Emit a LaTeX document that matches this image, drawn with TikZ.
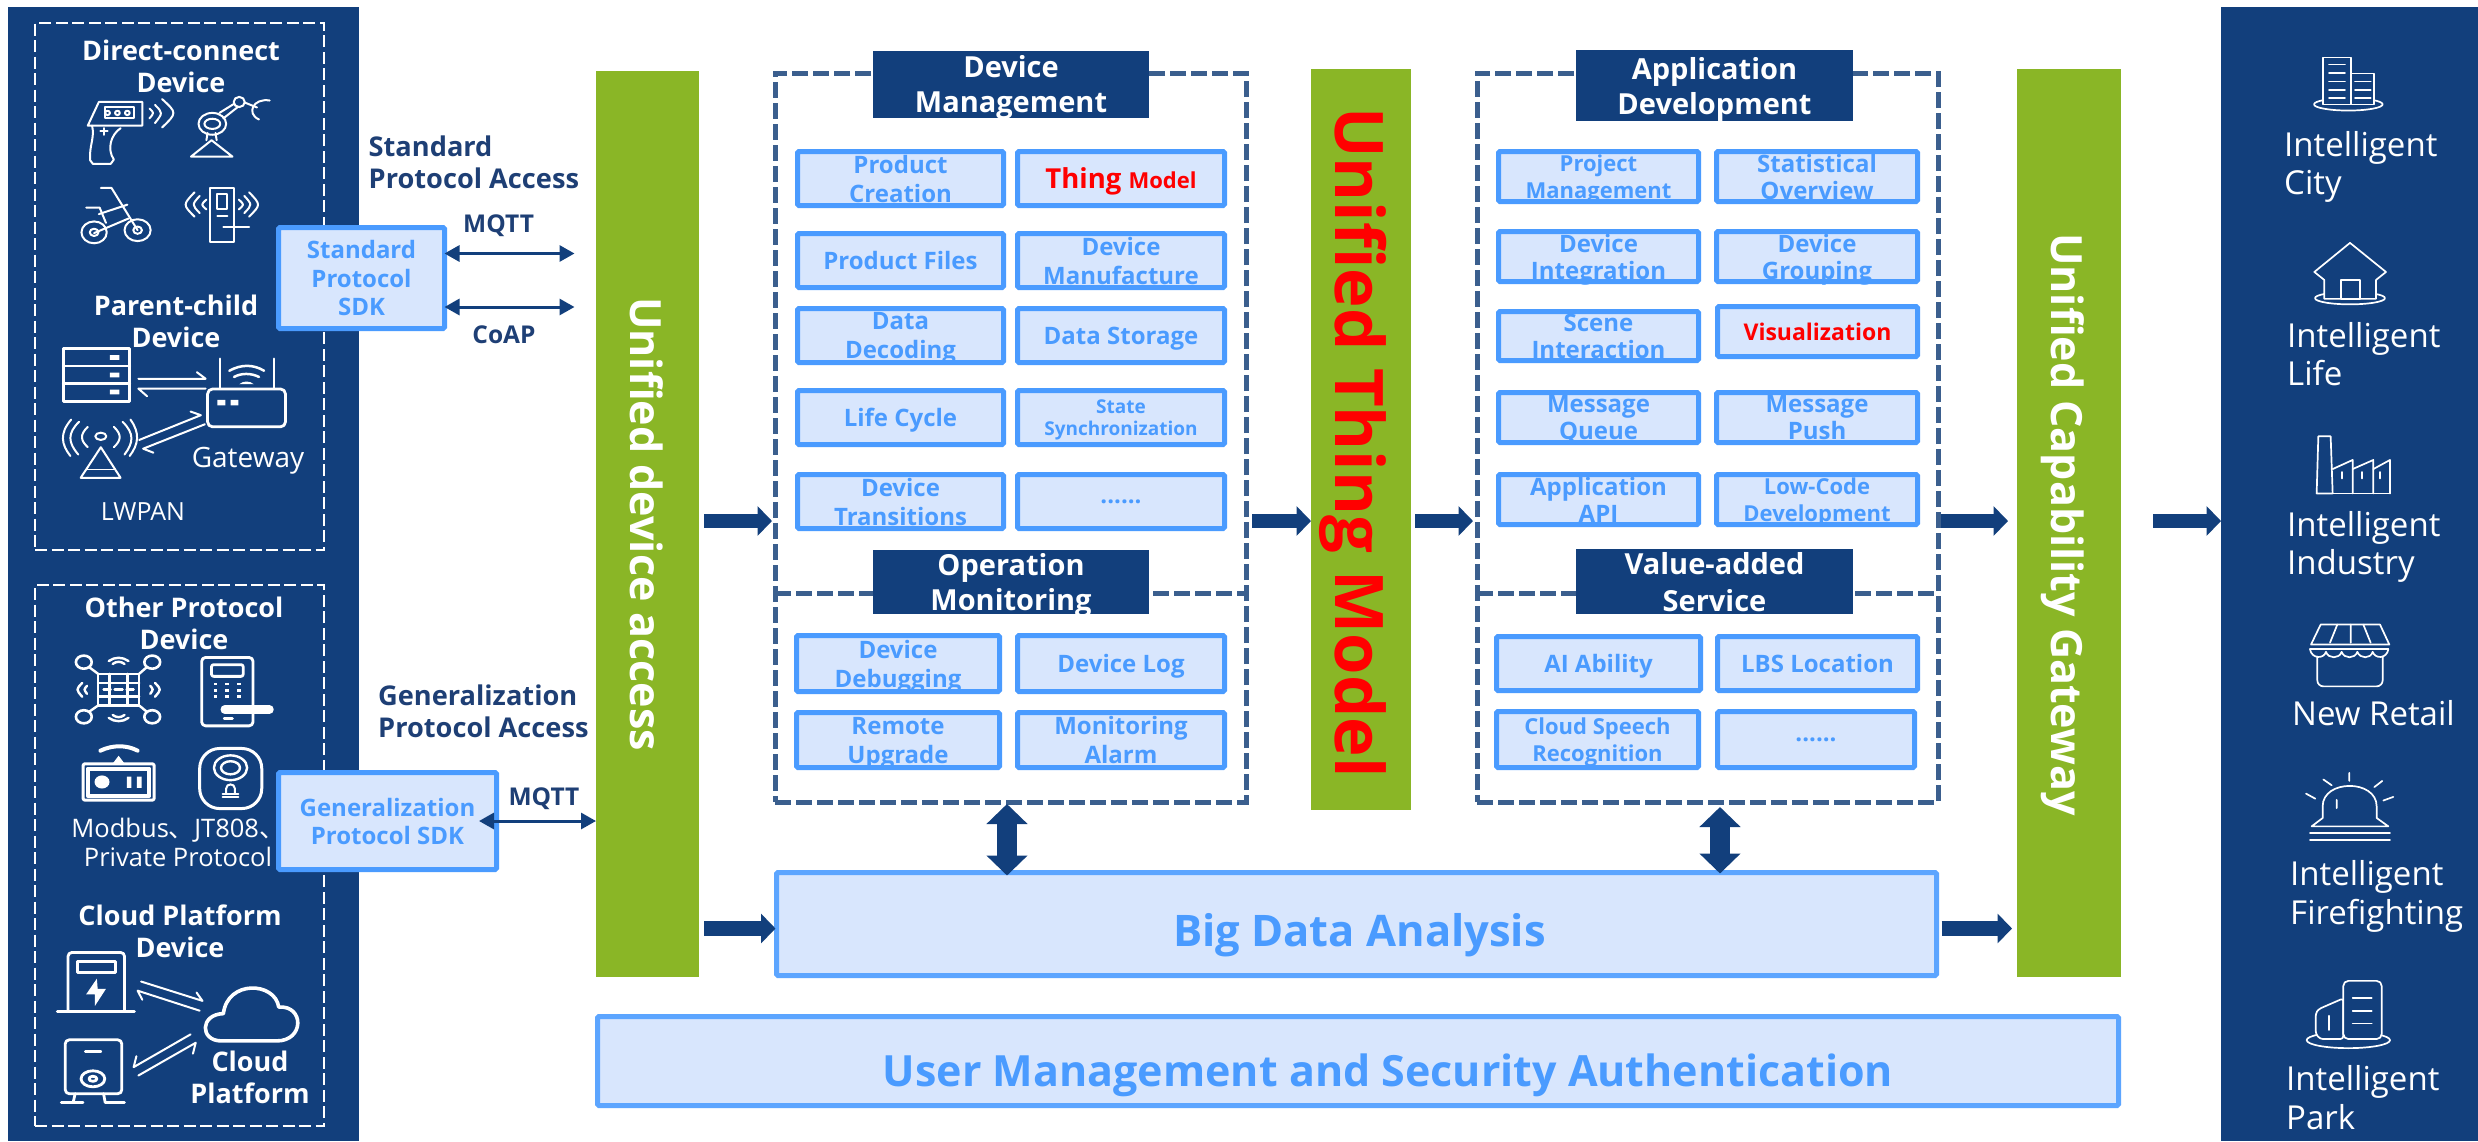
\documentclass[tikz,border=0pt]{standalone}
\usepackage{fontspec}
\setmainfont{Open Sans}
\newfontfamily\cjk{Noto Sans CJK SC}
\usetikzlibrary{arrows.meta}
\definecolor{navy}{RGB}{18,63,124}
\definecolor{lbltxt}{RGB}{30,63,117}
\definecolor{leaf}{RGB}{138,182,38}
\definecolor{bl}{RGB}{74,155,255}
\definecolor{bf}{RGB}{216,230,253}
\definecolor{dsh}{RGB}{59,95,142}
\definecolor{redt}{RGB}{255,0,0}
\newcommand{\fs}[2]{\fontsize{#1}{#2}\selectfont}
\newcommand{\cbox}[7][]{%
  \pgfmathsetmacro\mycx{(#3+#5)/2}\pgfmathsetmacro\mycy{(#4+#6)/2}%
  \pgfmathsetmacro\myw{#5-#3-5}\pgfmathsetmacro\myh{#6-#4-5}%
  \node[cell,minimum width=\myw pt,minimum height=\myh pt,#1] (#2) at (\mycx,\mycy) {#7};}
\newcommand{\hdr}[7][]{%
  \pgfmathsetmacro\mycx{(#3+#5)/2}\pgfmathsetmacro\mycy{(#4+#6)/2}%
  \pgfmathsetmacro\myw{#5-#3}\pgfmathsetmacro\myh{#6-#4}%
  \node[header,minimum width=\myw pt,minimum height=\myh pt,#1] (#2) at (\mycx,\mycy) {#7};}
\newcommand{\solid}[7][]{%
  \pgfmathsetmacro\mycx{(#3+#5)/2}\pgfmathsetmacro\mycy{(#4+#6)/2}%
  \pgfmathsetmacro\myw{#5-#3}\pgfmathsetmacro\myh{#6-#4}%
  \node[inner sep=0,outer sep=0,minimum width=\myw pt,minimum height=\myh pt,fill=#7,#1] (#2) at (\mycx,\mycy) {};}
\newcommand{\dbox}[6][]{%
  \pgfmathsetmacro\mycx{(#3+#5)/2}\pgfmathsetmacro\mycy{(#4+#6)/2}%
  \pgfmathsetmacro\myw{#5-#3}\pgfmathsetmacro\myh{#6-#4}%
  \node[inner sep=0,outer sep=0,minimum width=\myw pt,minimum height=\myh pt,#1] (#2) at (\mycx,\mycy) {};}
\tikzset{
  x=1pt,y=-1pt,
  cell/.style={draw=bl,line width=5pt,fill=bf,text=bl,font=\bfseries\fs{24}{29},align=center,inner sep=0,outer sep=0,rounded corners=1.5pt,text depth=0pt},
  cellsm/.style={font=\bfseries\fs{22}{26.5}},
  cellmd/.style={font=\bfseries\fs{24}{27}},
  header/.style={fill=navy,text=white,font=\bfseries\fs{29}{35},align=center,inner sep=0,outer sep=0,text depth=0pt},
  whead/.style={text=white,font=\bfseries\fs{27}{32},align=center,inner sep=0,anchor=base},
  wreg/.style={text=white,font=\fs{25.5}{29},align=center,inner sep=0,anchor=base},
  plabel/.style={text=lbltxt,font=\bfseries\fs{27.2}{32},align=left,inner sep=0,anchor=base west},
  proto/.style={text=lbltxt,font=\bfseries\fs{24.5}{28},inner sep=0,anchor=base},
  rlabel/.style={text=white,font=\fs{33}{38.5},align=left,inner sep=0,anchor=base west},
  dashG/.style={draw=dsh,line width=5pt,dash pattern=on 16pt off 5pt},
  dashW/.style={draw=white,line width=2.2pt,dash pattern=on 12pt off 4.5pt},
  twoway/.style={{Triangle[length=15pt,width=16pt]}-{Triangle[length=15pt,width=16pt]},navy,line width=3pt},
  bigarrow/.style={-{Triangle[length=14.5pt,width=29pt]},navy,line width=14.5pt},
  vertarrow/.style={{Triangle[length=20pt,width=40pt]}-{Triangle[length=20pt,width=40pt]},navy,line width=20pt},
  bartxt/.style={rotate=-90,anchor=base west,inner sep=0,font=\bfseries\fs{43}{43},text=white},
  zl/.style={x=0.3954pt,y=-0.3642pt},
  zr/.style={x=0.3333pt,y=-0.3636pt},
  ic/.style={draw=white,line width=2pt,line cap=round,line join=round},
  icr/.style={draw=white,line width=1.7pt,line cap=round,line join=round},
}
\begin{document}
\begin{tikzpicture}
\useasboundingbox (0,0) rectangle (2478,1141);
\fill[white] (0,0) rectangle (2478,1141);
% side panels
\solid{lpanel}{8}{7}{359}{1141}{navy}
\solid{rpanel}{2221}{7}{2478}{1141}{navy}
% left dashed groups
\dbox[dashW]{lg1}{35}{23}{324}{550}
\dbox[dashW]{lg2}{35}{585}{324}{1126}
% left headings
\node[whead] (h1) at (181,92.7) {Direct-connect\\Device};
\node[whead] (h2) at (176,347) {Parent-child\\Device};
\node[whead] (h3) at (184,649.5) {Other Protocol\\Device};
\node[whead] (h4) at (180,957) {Cloud Platform\\Device};
\node[whead] (h5) at (250,1103.5) {Cloud\\Platform};
\node[wreg,font=\fs{28}{29}] (t1) at (248,467) {Gateway};
\node[wreg,font=\fs{25}{29}] (t2) at (143,520) {LWPAN};
\node[wreg] (t3) at (178,866) {Modbus{\cjk 、}JT808{\cjk 、}\\Private Protocol};
% upper-left icons
\begin{scope}[zl,ic]
  % scanner gun
  \draw (250,280) -- (360,280) -- (360,345) -- (222,345) -- cycle;
  \draw (265,295) rectangle (338,325);
  \foreach \q in {272,297,322} \draw (\q,310) ellipse [x radius=6,y radius=6];
  \draw (233,345) .. controls (240,380) and (225,400) .. (228,440) -- (235,450) -- (280,450) -- (288,438) .. controls (270,410) and (280,370) .. (305,352);
  \draw (263,352) -- (263,370) (254,360) -- (272,360);
  \draw (378,298) .. controls (390,310) .. (378,325);
  \draw (392,288) .. controls (412,310) .. (392,338);
  \draw (410,272) .. controls (448,310) .. (410,350);
  % robot arm
  \draw (483,430) -- (535,385) -- (588,430) -- cycle;
  \draw (522,385) -- (525,365) (548,385) -- (545,365);
  \draw (537,340) ellipse [x radius=35,y radius=30];
  \draw (537,340) ellipse [x radius=20,y radius=14];
  \draw (555,310) -- (592,285) (565,325) -- (600,295);
  \draw (605,280) ellipse [x radius=14,y radius=14];
  \draw (620,282) -- (650,295);
  \draw (682,276) .. controls (640,268) and (622,312) .. (655,328);
  % bicycle
  \draw (238,638) ellipse [x radius=32,y radius=30];
  \draw (238,638) ellipse [x radius=11,y radius=10];
  \draw (348,632) ellipse [x radius=33,y radius=30];
  \draw (348,632) ellipse [x radius=11,y radius=10];
  \draw (255,516) -- (282,516) -- (348,632);
  \draw (238,640) -- (325,600);
  \draw (218,570) -- (252,570) -- (268,612);
  \draw (250,588) -- (322,562);
  % door lock
  \draw (532,516) rectangle (592,665);
  \draw (550,532) rectangle (575,575);
  \draw (550,592) -- (575,592);
  \draw (565,622) -- (630,622);
  \draw (522,548) .. controls (508,562) .. (522,575);
  \draw (505,538) .. controls (485,562) .. (505,585);
  \draw (492,528) .. controls (462,562) .. (492,595);
  \draw (604,548) .. controls (618,562) .. (604,575);
  \draw (618,538) .. controls (638,562) .. (618,585);
  \draw (630,528) .. controls (660,562) .. (630,595);
  % server
  \draw[line width=2.8pt] (160,957) rectangle (328,1102);
  \draw[line width=2.8pt] (160,1005) -- (328,1005) (160,1054) -- (328,1054);
  \fill[white] (278,975) rectangle (302,988) (278,1023) rectangle (302,1036) (278,1070) rectangle (302,1083);
  \draw (350,1040) -- (520,1040) -- (498,1022);
  \draw (520,1067) -- (350,1067) -- (372,1088);
  % router
  \draw[line width=2.8pt,rounded corners=5pt] (525,1068) rectangle (722,1172);
  \draw[line width=2.5pt] (556,985) -- (556,1068) (693,985) -- (693,1068);
  \draw[line width=2.5pt] (580,1018) .. controls (610,1000) and (640,1000) .. (668,1018);
  \draw[line width=2.5pt] (592,1035) .. controls (610,1024) and (635,1024) .. (655,1035);
  \fill[white] (605,1055) .. controls (615,1045) and (632,1045) .. (642,1055) -- cycle;
  \fill[white] (550,1098) rectangle (570,1113) (583,1098) rectangle (603,1113);
  \draw (352,1208) -- (508,1140) -- (482,1130);
  \draw (518,1165) -- (362,1232) -- (388,1243);
  % antenna
  \draw (204,1312) -- (255,1228) -- (305,1312) -- cycle;
  \draw[line width=1.2pt] (218,1290) -- (290,1290);
  \draw (255,1198) ellipse [x radius=14,y radius=10];
  \draw (222,1172) .. controls (200,1195) and (205,1210) .. (222,1228);
  \draw (200,1158) .. controls (170,1190) and (172,1215) .. (198,1248);
  \draw (180,1152) .. controls (150,1190) and (155,1220) .. (178,1252) ;
  \draw (288,1172) .. controls (310,1195) and (305,1210) .. (288,1228);
  \draw (310,1158) .. controls (340,1190) and (338,1215) .. (315,1248);
  \draw (330,1152) .. controls (355,1190) and (350,1220) .. (328,1252);
\end{scope}
% lower-left icons
\begin{scope}[shift={(0,570)},zl,ic]
  % chip drone
  \draw[line width=2.4pt] (248,285) rectangle (352,372);
  \draw[line width=2.4pt] (277,285) -- (277,372) (322,285) -- (322,372) (248,310) -- (352,310) (248,347) -- (352,347);
  \foreach \q/\r in {212/253,385/253,212/403,385/403} \draw[line width=2.6pt] (\q,\r) ellipse [x radius=20,y radius=18];
  \draw[line width=2.4pt] (227,268) -- (248,285) (370,268) -- (352,285) (227,388) -- (248,372) (370,388) -- (352,372);
  \draw[line width=2.4pt] (262,328) -- (280,328) (290,328) -- (310,328) (320,328) -- (338,328);
  \draw[line width=2.4pt] (285,258) .. controls (295,250) and (305,250) .. (315,258) (275,250) .. controls (290,238) and (310,238) .. (325,250);
  \draw[line width=2.4pt] (285,398) .. controls (295,406) and (305,406) .. (315,398) (275,406) .. controls (290,418) and (310,418) .. (325,406);
  \draw[line width=2.4pt] (220,318) .. controls (212,328) .. (220,340) (208,310) .. controls (192,328) .. (208,348);
  \draw[line width=2.4pt] (380,318) .. controls (388,328) .. (380,340) (392,310) .. controls (408,328) .. (392,348);
  % keypad lock
  \draw[line width=2.8pt,rounded corners=4pt] (510,240) rectangle (640,428);
  \draw[line width=2.8pt,rounded corners=2pt] (535,260) rectangle (615,292);
  \foreach \q in {545,575,605} \foreach \r in {313,330,347} \fill[white] (\q-5,\r-4) rectangle (\q+5,\r+4);
  \fill[white,rounded corners=4pt] (558,371) rectangle (692,395);
  \draw[line width=2.8pt] (567,408) -- (588,408);
  % modbus box
  \draw[line width=3pt,rounded corners=2pt] (210,532) rectangle (390,632);
  \draw[line width=4pt] (222,545) rectangle (378,620);
  \fill[white] (258,582) ellipse [x radius=19,y radius=18];
  \fill[white] (321,567) rectangle (332,598) (346,567) rectangle (358,598);
  \fill[white] (286,530) -- (300,510) -- (314,530) -- cycle;
  \draw[line width=4pt] (254,496) .. controls (285,480) and (320,480) .. (348,496);
  % round alarm
  \draw[line width=3pt,rounded corners=20pt] (505,490) rectangle (662,655);
  \draw[line width=2.4pt] (583,543) ellipse [x radius=42,y radius=34];
  \draw[line width=2.4pt] (583,543) ellipse [x radius=24,y radius=18];
  \draw (572,615) -- (572,600) .. controls (572,585) and (594,585) .. (594,600) -- (594,615);
  \draw (563,615) -- (603,615) (563,624) -- (603,624);
  % charger
  \draw[line width=2.8pt,rounded corners=4pt] (172,1212) -- (172,1050) -- (315,1050) -- (315,1212);
  \draw[line width=3pt] (145,1212) -- (340,1212);
  \draw[line width=2.8pt] (195,1075) rectangle (292,1105);
  \fill[white] (245,1122) -- (218,1165) -- (240,1165) -- (240,1197) -- (268,1150) -- (247,1150) -- cycle;
  \draw (357,1130) -- (512,1183) -- (497,1160);
  \draw (505,1210) -- (348,1155) -- (360,1180);
  % second device
  \draw[line width=2.8pt,rounded corners=4pt] (165,1290) rectangle (308,1438);
  \draw[line width=2.8pt] (216,1322) -- (255,1322);
  \draw[line width=2.8pt] (235,1397) ellipse [x radius=30,y radius=22];
  \draw[line width=2.8pt] (235,1397) ellipse [x radius=10,y radius=7];
  \draw[line width=2.8pt] (190,1438) -- (185,1462) -- (155,1462) (262,1438) -- (266,1462) -- (315,1462);
  \draw[line width=2.8pt] (185,1462) -- (210,1462);
  \draw (482,1275) -- (338,1365) -- (345,1335);
  \draw (350,1388) -- (495,1298) -- (488,1328);
  % cloud
  \draw[line width=3.6pt] (560,1293) -- (700,1293) .. controls (770,1293) and (770,1195) .. (705,1200) .. controls (695,1130) and (575,1125) .. (565,1218) .. controls (505,1220) and (505,1293) .. (560,1293) -- cycle;
\end{scope}
% right panel icons
\begin{scope}[shift={(2130,0)},zr,icr]
  % city
  \draw (655,287) ellipse [x radius=103,y radius=17];
  \draw[fill=navy] (580,158) rectangle (663,287);
  \draw[fill=navy] (663,202) rectangle (733,287);
  \foreach \q in {177,200,224,247,270} \draw (597,\q) -- (645,\q);
  \foreach \q in {224,247,270} \draw (675,\q) -- (722,\q);
  % home
  \draw (660,820) ellipse [x radius=105,y radius=17];
  \draw[fill=navy] (553,748) -- (660,668) -- (768,748) -- (738,770) -- (738,822) -- (583,822) -- (583,770) -- cycle;
  \draw (632,770) rectangle (690,822);
  % factory
  \draw (560,1357) -- (565,1200) -- (602,1200) -- (608,1357) -- cycle;
  \draw (560,1357) -- (780,1357);
  \draw (608,1290) -- (668,1265) -- (668,1357);
  \draw (668,1290) -- (730,1265) -- (730,1357);
  \draw (730,1290) -- (780,1265) -- (780,1357);
  \foreach \q in {637,695,751} \draw (\q,1298) -- (\q,1316);
\end{scope}
\begin{scope}[shift={(2130,570)},zr,icr]
  % store
  \draw (543,205) -- (572,150) -- (750,150) -- (778,205) -- cycle;
  \draw (600,200) -- (622,150) (662,150) -- (662,200) (700,150) -- (722,200);
  \draw (540,218) -- (775,218);
  \draw (540,218) .. controls (545,245) and (582,245) .. (588,225) .. controls (595,245) and (628,245) .. (635,225) .. controls (642,245) and (675,245) .. (682,225) .. controls (690,245) and (722,245) .. (728,225) .. controls (735,245) and (770,245) .. (775,218);
  \draw[rounded corners=6pt] (562,238) -- (562,320) -- (758,320) -- (758,238);
  % beacon
  \draw (545,705) -- (578,682) -- (578,650) .. controls (578,575) and (740,575) .. (740,650) -- (740,682) -- (775,705) -- cycle;
  \draw (540,723) -- (780,723) (540,742) -- (780,742);
  \draw (658,558) -- (658,580) (580,576) -- (605,592) (757,580) -- (733,597) (528,615) -- (556,629) (790,624) -- (760,634) (620,632) -- (620,655);
  % park
  \draw (655,1293) ellipse [x radius=125,y radius=22];
  \draw[fill=navy,rounded corners=3pt] (640,1178) -- (565,1208) -- (557,1220) -- (557,1275) -- (570,1290) -- (640,1290) -- cycle;
  \draw[fill=navy,rounded corners=5pt] (640,1130) rectangle (755,1290);
  \draw (668,1178) -- (725,1178) (668,1212) -- (725,1212) (668,1247) -- (725,1247) (597,1226) -- (597,1265);
\end{scope}
% right labels
\node[rlabel] (r1) at (2284,194.5) {Intelligent\\City};
\node[rlabel] (r2) at (2287,385.5) {Intelligent\\Life};
\node[rlabel] (r3) at (2287,574.5) {Intelligent\\Industry};
\node[rlabel] (r4) at (2292,725.6) {New Retail};
\node[rlabel] (r5) at (2290,924) {Intelligent\\Firefighting};
\node[rlabel] (r6) at (2286,1129) {Intelligent\\Park};
% green bars
\solid{uda}{596}{71}{699}{977}{leaf}
\solid{utm}{1311}{69}{1411}{810}{leaf}
\solid{ucg}{2017}{69}{2121}{977}{leaf}
\node[bartxt] (udat) at (630,297) {Unified device access};
\node[bartxt,text=redt,font=\bfseries\fs{67}{67}] (utmt) at (1335,107) {Unified Thing Model};
\node[bartxt] (ucgt) at (2051,233) {Unified Capability Gateway};
% dashed frames
\dbox[dashG]{dm}{775}{73}{1246}{802}
\dbox[dashG]{ad}{1477}{73}{1938}{802}
\coordinate (dmm) at (775,593);
\coordinate (adm) at (1477,593);
\draw[dashG] (dmm) -- (dmm -| dm.east);
\draw[dashG] (adm) -- (adm -| ad.east);
% headers
\hdr{h-dm}{873}{51}{1149}{117.5}{Device\\Management}
\hdr{h-om}{873}{550}{1149}{614}{Operation\\Monitoring}
\hdr{h-ad}{1576}{50}{1853}{121}{Application\\Development}
\hdr[font=\bfseries\fs{29}{37}]{h-va}{1576}{549}{1853}{614}{Value-added\\Service}
% device management cells
\cbox{c11}{795}{149}{1006}{208}{Product\\Creation}
\cbox{c12}{1015}{149}{1227}{208}{\textcolor{redt}{\fs{27.5}{27}Thing \fs{22}{27}Model}}
\cbox{c21}{795}{231}{1006}{290}{Product Files}
\cbox{c22}{1015}{231}{1227}{290}{Device\\Manufacture}
\cbox{c31}{795}{306}{1006}{365}{Data\\Decoding}
\cbox{c32}{1015}{306}{1227}{365}{Data Storage}
\cbox{c41}{795}{388}{1006}{447}{Life Cycle}
\cbox[font=\bfseries\fs{19}{22}]{c42}{1015}{388}{1227}{447}{State\\Synchronization}
\cbox{c51}{795}{472}{1006}{531}{Device\\Transitions}
\cbox{c52}{1015}{472}{1227}{531}{......}
% operation monitoring cells
\cbox{o11}{794}{633}{1002}{694}{Device\\Debugging}
\cbox{o12}{1015}{633}{1227}{694}{Device Log}
\cbox{o21}{794}{710}{1002}{770}{Remote\\Upgrade}
\cbox{o22}{1015}{710}{1227}{770}{Monitoring\\Alarm}
% application development cells
\cbox[cellsm]{a11}{1496}{149}{1701}{204}{Project\\Management}
\cbox[cellmd]{a12}{1714}{149}{1920}{204}{Statistical\\Overview}
\cbox[cellmd]{a21}{1496}{229}{1701}{284}{Device\\Integration}
\cbox[cellmd]{a22}{1714}{229}{1920}{284}{Device\\Grouping}
\cbox[cellmd]{a31}{1496}{309}{1701}{363}{Scene\\Interaction}
\cbox[text=redt,font=\bfseries\fs{23}{25}]{a32}{1715}{304}{1920}{359}{Visualization}
\cbox[cellmd]{a41}{1496}{390}{1701}{445}{Message\\Queue}
\cbox[cellmd]{a42}{1714}{390}{1920}{445}{Message\\Push}
\cbox[cellmd]{a51}{1496}{472}{1701}{527}{Application\\API}
\cbox[cellsm]{a52}{1714}{472}{1920}{527}{Low-Code\\Development}
% value added cells
\cbox{v11}{1494}{634}{1703}{693}{AI Ability}
\cbox{v12}{1715}{634}{1920}{693}{LBS Location}
\cbox[cellsm]{v21}{1494}{709}{1701}{770}{Cloud Speech\\Recognition}
\cbox{v22}{1715}{709}{1917}{770}{......}
% big boxes
\cbox[font=\bfseries\fs{43.5}{45},draw=bl!90!white]{bigdata}{774}{870}{1939}{978}{\hspace{6pt}\raisebox{-22.5pt}[0pt][0pt]{Big Data Analysis}}
\cbox[font=\bfseries\fs{43}{45},draw=bl!90!white]{users}{595}{1014}{2121}{1108}{\hspace{60pt}\raisebox{-25.5pt}[0pt][0pt]{User Management and Security Authentication}}
% protocol labels and SDKs
\node[plabel] (pl1) at (368.5,188) {Standard\\Protocol Access};
\node[plabel] (pl2) at (378,737) {Generalization\\Protocol Access};
\node[proto] (m1) at (498.6,232) {MQTT};
\node[proto] (m2) at (504,343.6) {CoAP};
\node[proto] (m3) at (544,805) {MQTT};
\cbox[font=\bfseries\fs{24}{28.5}]{sdk1}{276}{225}{447}{331}{Standard\\Protocol\\SDK}
\cbox[font=\bfseries\fs{24}{28}]{sdk2}{276}{770}{499}{872}{Generalization\\Protocol SDK}
% connectors
\coordinate (a1) at (574.5,253.5);
\coordinate (a2) at (574.5,307);
\coordinate (a3) at (479,821);
\draw[twoway] (sdk1.east |- a1) -- (a1);
\draw[twoway] (sdk1.east |- a2) -- (a2);
\draw[twoway] (a3) -- (uda.west |- a3);
\coordinate (row) at (0,521);
\coordinate (rowb) at (0,928.5);
\draw[bigarrow] ([xshift=5pt]uda.east |- row) -- ([xshift=-3pt]dm.west |- row);
\draw[bigarrow] ([xshift=6pt]dm.east |- row) -- (utm.west |- row);
\draw[bigarrow] ([xshift=4pt]utm.east |- row) -- ([xshift=-4pt]ad.west |- row);
\draw[bigarrow] ([xshift=3pt]ad.east |- row) -- ([xshift=-9pt]ucg.west |- row);
\draw[bigarrow] ([xshift=32pt]ucg.east |- row) -- (rpanel.west |- row);
\draw[bigarrow] ([xshift=5pt]uda.east |- rowb) -- ([xshift=-1pt]bigdata.west |- rowb);
\draw[bigarrow] ([xshift=5pt]bigdata.east |- rowb) -- ([xshift=-5pt]ucg.west |- rowb);
\coordinate (v1) at (1007,804);
\coordinate (v2) at (1720,807);
\draw[vertarrow] (v1) -- ([yshift=-3pt]v1 |- bigdata.north);
\draw[vertarrow] (v2) -- ([yshift=-1pt]v2 |- bigdata.north);
\end{tikzpicture}
\end{document}
